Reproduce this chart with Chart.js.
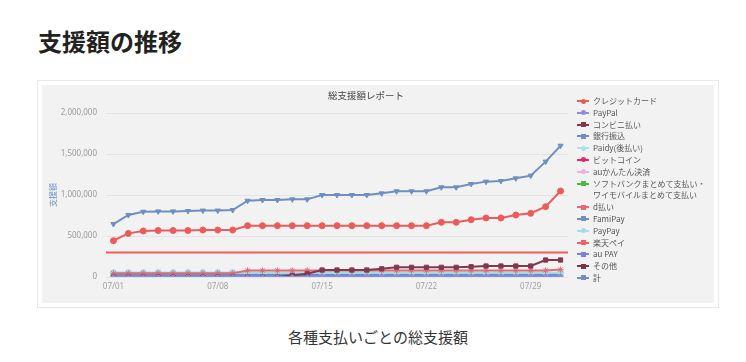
<!DOCTYPE html>
<html lang="ja">
<head>
<meta charset="utf-8">
<script src="https://cdn.jsdelivr.net/npm/chart.js@4/dist/chart.umd.min.js"></script>
<style>
  html, body { margin: 0; background: #fff; width: 746px; height: 362px; overflow: hidden; }
  body { font-family: "Noto Sans CJK JP", "Noto Sans", sans-serif; position: relative; }
  h2 { position: absolute; left: 38px; top: 29px; margin: 0; font-size: 24px; line-height: 24px; font-weight: 700; color: #222; }
  .frame { position: absolute; left: 37px; top: 80px; width: 672px; height: 218px; padding: 4px; border: 1px solid #e8e8e8; }
  .plot { position: relative; width: 672px; height: 218px; background: #f2f2f2; }
  .plot canvas { position: absolute; left: 0; top: 0; }
  .ctitle { position: absolute; left: 286px; top: 3px; width: 72px; text-align: center; font-size: 9.5px; color: #444; white-space: nowrap; }
  .legend { position: absolute; left: 535px; top: 10px; font-size: 8px; color: #555; }
  .legend .item { display: flex; align-items: flex-start; line-height: 11.8px; }
  .legend .icon { position: relative; width: 12px; height: 11.8px; margin-right: 4px; flex: none; }
  .legend .icon .ln { position: absolute; left: 0; top: 5px; width: 12px; height: 2px; }
  .legend .icon .mk { position: absolute; left: 3.5px; top: 3.5px; width: 5px; height: 5px; }
  .legend .txt { white-space: pre-line; }
  .caption { position: absolute; left: 0; width: 756px; top: 326px; text-align: center; font-size: 15px; color: #333; }
</style>
</head>
<body>
<h2>支援額の推移</h2>
<div class="frame">
  <div class="plot">
    <canvas id="supportChart" width="672" height="218"></canvas>
    <div class="ctitle">総支援額レポート</div>
    <div class="legend" id="legend"></div>
  </div>
</div>
<div class="caption">各種支払いごとの総支援額</div>
<script>
const days = ['07/01', '07/02', '07/03', '07/04', '07/05', '07/06', '07/07', '07/08', '07/09', '07/10',
  '07/11', '07/12', '07/13', '07/14', '07/15', '07/16', '07/17', '07/18', '07/19', '07/20',
  '07/21', '07/22', '07/23', '07/24', '07/25', '07/26', '07/27', '07/28', '07/29', '07/30', '07/31']

const creditCard = [443000, 532000, 561000, 567000, 567000, 567000, 573000, 573000, 573000, 626000,
  626000, 626000, 626000, 626000, 626000, 626000, 626000, 626000, 626000, 626000,
  626000, 626000, 667000, 667000, 699000, 720000, 720000, 756000, 777000, 858000, 1049000]
const paypal = [0, 0, 0, 0, 0, 0, 0, 0, 0, 0, 0, 0, 0, 0, 0, 0, 0, 0, 0, 0, 0, 0, 0, 0, 0, 0, 0, 0, 0, 0, 0]
const konbini = [0, 0, 0, 0, 0, 0, 0, 0, 0, 0, 0, 0, 20000, 40000, 85000, 85000, 85000, 85000, 100000, 118000,
  118000, 118000, 118000, 118000, 125000, 134000, 134000, 134000, 134000, 207000, 207000]
const bankTransfer = [10000, 10000, 10000, 10000, 10000, 10000, 10000, 10000, 10000, 10000, 10000, 10000, 10000, 10000, 10000, 10000,
  10000, 10000, 10000, 10000, 10000, 10000, 10000, 10000, 10000, 10000, 10000, 10000, 10000, 10000, 10000]
const paidy = [0, 0, 0, 0, 0, 0, 0, 0, 0, 0, 0, 0, 0, 0, 0, 0, 0, 0, 0, 0, 0, 0, 0, 0, 0, 0, 0, 0, 0, 0, 0]
const bitcoin = [0, 0, 0, 0, 0, 0, 0, 0, 0, 0, 0, 0, 0, 0, 0, 0, 0, 0, 0, 0, 0, 0, 0, 0, 0, 0, 0, 0, 0, 0, 0]
const auKantan = [0, 0, 0, 0, 0, 0, 0, 0, 0, 0, 0, 0, 0, 0, 0, 0, 0, 0, 0, 0, 0, 0, 0, 0, 0, 0, 0, 0, 0, 0, 0]
const softbank = [0, 0, 0, 0, 0, 0, 0, 0, 0, 0, 0, 0, 0, 0, 0, 0, 0, 0, 0, 0, 0, 0, 0, 0, 0, 0, 0, 0, 0, 0, 0]
const dBarai = [45000, 45000, 45000, 45000, 45000, 45000, 45000, 45000, 45000, 80000, 80000, 80000, 80000, 80000, 80000, 80000,
  80000, 80000, 80000, 80000, 80000, 80000, 80000, 80000, 80000, 80000, 80000, 80000, 80000, 80000, 90000]
const famiPay = [15000, 15000, 15000, 15000, 15000, 15000, 15000, 15000, 15000, 15000, 15000, 15000, 15000, 15000, 15000, 15000,
  15000, 15000, 15000, 15000, 15000, 15000, 15000, 15000, 15000, 15000, 15000, 15000, 15000, 15000, 15000]
const payPay = [55000, 55000, 55000, 55000, 55000, 55000, 55000, 55000, 55000, 55000, 55000, 55000, 55000, 55000, 55000, 55000,
  55000, 55000, 55000, 55000, 55000, 55000, 55000, 55000, 55000, 55000, 55000, 55000, 55000, 55000, 55000]
const rakutenPay = [5000, 5000, 5000, 5000, 5000, 5000, 5000, 5000, 5000, 5000, 5000, 5000, 5000, 5000, 5000, 5000,
  5000, 5000, 5000, 5000, 5000, 5000, 5000, 5000, 5000, 5000, 5000, 5000, 5000, 5000, 5000]
const auPay = [32000, 32000, 32000, 32000, 32000, 32000, 32000, 32000, 32000, 32000, 32000, 32000, 32000, 32000, 32000, 32000,
  32000, 32000, 32000, 32000, 32000, 32000, 32000, 32000, 32000, 32000, 32000, 32000, 32000, 32000, 32000]
const others = [0, 0, 0, 0, 0, 0, 0, 0, 0, 0, 0, 0, 0, 0, 0, 0, 0, 0, 0, 0, 0, 0, 0, 0, 0, 0, 0, 0, 0, 0, 0]
const total = [646000, 756000, 796000, 800000, 800000, 805000, 810000, 810000, 817000, 930000,
  939000, 939000, 947000, 947000, 1000000, 1000000, 1000000, 1000000, 1020000, 1045000,
  1045000, 1045000, 1094000, 1094000, 1134000, 1163000, 1170000, 1203000, 1236000, 1407000, 1601000]

const targetAmount = 300000
const yTicks = [0, 500000, 1000000, 1500000, 2000000]

const series = [
  { label: 'クレジットカード', data: creditCard, color: '#ec5b5b', point: 'circle', radius: 3 },
  { label: 'PayPal', data: paypal, color: '#8e8fd6', point: 'circle', radius: 2 },
  { label: 'コンビニ払い', data: konbini, color: '#82394f', point: 'rect', radius: 3 },
  { label: '銀行振込', data: bankTransfer, color: '#6f8fbd', point: 'triangle', radius: 2.5 },
  { label: 'Paidy(後払い)', data: paidy, color: '#a9e3e6', point: 'circle', radius: 2 },
  { label: 'ビットコイン', data: bitcoin, color: '#e8246c', point: 'circle', radius: 2 },
  { label: 'auかんたん決済', data: auKantan, color: '#eab3e2', point: 'circle', radius: 2 },
  { label: 'ソフトバンクまとめて支払い・\nワイモバイルまとめて支払い', data: softbank, color: '#4cb848', point: 'rect', radius: 2 },
  { label: 'd払い', data: dBarai, color: '#e36a73', point: 'star', radius: 3 },
  { label: 'FamiPay', data: famiPay, color: '#6f8fbd', point: 'crossRot', radius: 2 },
  { label: 'PayPay', data: payPay, color: '#9fdfe8', point: 'circle', radius: 3 },
  { label: '楽天ペイ', data: rakutenPay, color: '#f06060', point: 'cross', radius: 2 },
  { label: 'au PAY', data: auPay, color: '#7583e0', point: 'rect', radius: 3 },
  { label: 'その他', data: others, color: '#7b3346', point: 'rect', radius: 3 },
  { label: '計', data: total, color: '#6f8fbd', point: 'triangle', radius: 3, rotation: 180 }
]

const targetLine = {
  id: 'targetLine',
  beforeDatasetsDraw(chart) {
    const { ctx, chartArea, scales } = chart
    const y = scales.y.getPixelForValue(targetAmount)
    ctx.save()
    ctx.strokeStyle = '#ef5b5b'
    ctx.lineWidth = 2
    ctx.beginPath()
    ctx.moveTo(chartArea.left, y)
    ctx.lineTo(chartArea.right, y)
    ctx.stroke()
    ctx.restore()
  }
}

const chart = new Chart(document.getElementById('supportChart'), {
  type: 'line',
  data: {
    labels: days,
    datasets: series.map(s => ({
      label: s.label,
      data: s.data,
      borderColor: s.color,
      backgroundColor: s.color,
      borderWidth: 2,
      pointStyle: s.point,
      pointRadius: s.radius,
      pointRotation: s.rotation || 0,
      pointBorderWidth: 1,
      tension: 0
    }))
  },
  options: {
    responsive: false,
    devicePixelRatio: 1,
    animation: false,
    layout: { padding: { left: 0, right: 146, top: 28, bottom: 0 } },
    plugins: {
      legend: { display: false },
      title: { display: false },
      tooltip: { enabled: false }
    },
    scales: {
      x: {
        offset: true,
        grid: { display: false, drawTicks: false },
        border: { display: false },
        ticks: {
          autoSkip: false,
          maxRotation: 0,
          padding: 5,
          color: '#a0a0a0',
          font: { size: 8, family: 'Noto Sans' },
          callback(value, index) {
            return index % 7 === 0 ? this.getLabelForValue(value) : ''
          }
        },
        afterFit(scale) { scale.height = 26 }
      },
      y: {
        min: 0,
        max: 2000000,
        afterBuildTicks(scale) { scale.ticks = yTicks.map(v => ({ value: v })) },
        grid: { color: '#e3e3e3', drawTicks: false },
        border: { display: false },
        ticks: {
          padding: 9,
          color: '#9a9a9a',
          font: { size: 8, family: 'Noto Sans' },
          callback: v => v.toLocaleString('en-US')
        },
        title: {
          display: true,
          text: '支援額',
          color: '#6d8fc4',
          font: { size: 8, family: 'Noto Sans CJK JP' },
          padding: { top: 6, bottom: 0 }
        },
        afterFit(scale) { scale.width = 64 }
      }
    }
  },
  plugins: [targetLine]
})

// legend drawn as html so the long label can wrap
const legend = document.getElementById('legend')
series.forEach(s => {
  const item = document.createElement('div')
  item.className = 'item'
  const round = s.point === 'circle' ? 'border-radius:50%;' : ''
  item.innerHTML = '<span class="icon"><span class="ln" style="background:' + s.color + '"></span>' +
    '<span class="mk" style="background:' + s.color + ';' + round + '"></span></span>' +
    '<span class="txt"></span>'
  item.querySelector('.txt').textContent = s.label
  legend.appendChild(item)
})
</script>
</body>
</html>
